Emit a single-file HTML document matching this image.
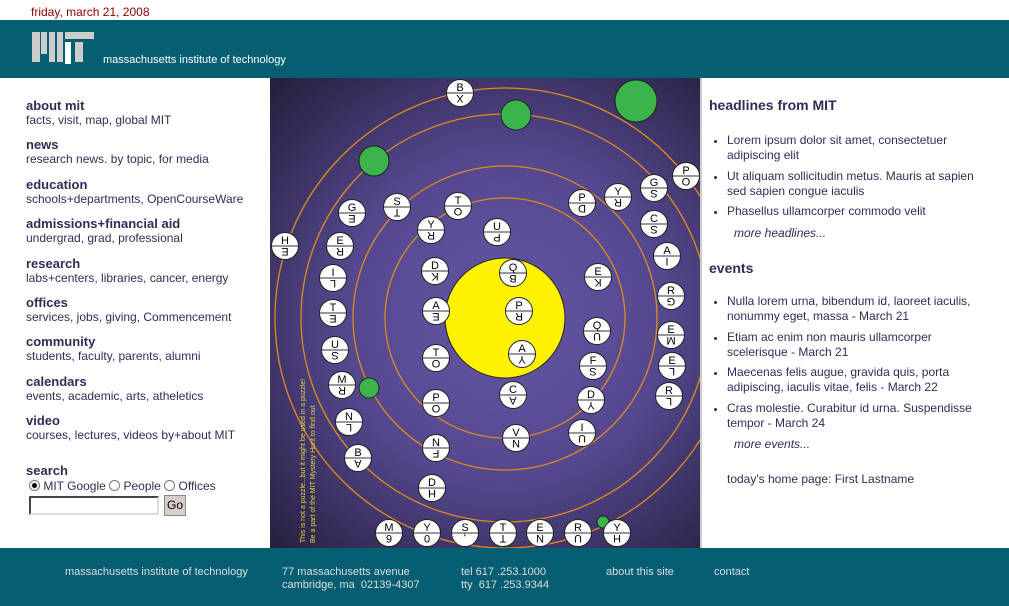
<!DOCTYPE html>
<html><head><meta charset="utf-8">
<style>
*{margin:0;padding:0;box-sizing:border-box}
body{width:1009px;height:606px;position:relative;background:#fff;font-family:"Liberation Sans",Arial,sans-serif;color:#2f2d5a;overflow:hidden}
.a{position:absolute;white-space:nowrap}
.date{left:31px;top:5px;font-size:12px;color:#8b0000}
.hdr{left:0;top:20px;width:1009px;height:58px;background:#065e73}
.ftr{left:0;top:548px;width:1009px;height:58px;background:#065e73}
.bar{position:absolute;background:#ccc}
.nav h{display:block;font-weight:bold;font-size:13px}
.nav s{display:block;text-decoration:none;font-size:12px}
.ri{font-size:12px;line-height:15px}
.ft{font-size:11px;color:#ddd;line-height:13px}
.bul{position:absolute;width:3px;height:3px;background:#2f2d5a;border-radius:50%}
</style></head><body>
<div class="a date">friday, march 21, 2008</div>
<div class="a hdr">
 <div class="bar" style="left:32px;top:12px;width:8px;height:30px"></div>
 <div class="bar" style="left:41px;top:12px;width:6px;height:22px"></div>
 <div class="bar" style="left:49px;top:12px;width:6px;height:30px"></div>
 <div class="bar" style="left:57px;top:12px;width:6px;height:30px"></div>
 <div class="bar" style="left:65px;top:12px;width:29px;height:7px"></div>
 <div class="bar" style="left:65px;top:22px;width:6px;height:22px;background:#fff"></div>
 <div class="bar" style="left:75px;top:22px;width:8px;height:20px"></div>
 <div class="a" style="left:103px;top:34px;font-size:11px;color:#fff">massachusetts institute of technology</div>
</div>

<div class="a nav" style="left:26px;top:99px;line-height:14px">
<h>about mit</h><s>facts, visit, map, global MIT</s>
<h style="margin-top:11.4px">news</h><s>research news. by topic, for media</s>
<h style="margin-top:11.4px">education</h><s>schools+departments, OpenCourseWare</s>
<h style="margin-top:11.4px">admissions+financial aid</h><s>undergrad, grad, professional</s>
<h style="margin-top:11.4px">research</h><s>labs+centers, libraries, cancer, energy</s>
<h style="margin-top:11.4px">offices</h><s>services, jobs, giving, Commencement</s>
<h style="margin-top:11.4px">community</h><s>students, faculty, parents, alumni</s>
<h style="margin-top:11.4px">calendars</h><s>events, academic, arts, atheletics</s>
<h style="margin-top:11.4px">video</h><s>courses, lectures, videos by+about MIT</s>
</div>
<div class="a" style="left:26px;top:463px;font-size:13px;font-weight:bold">search</div>
<div class="a" style="left:29px;top:479px;font-size:12px">
<span style="display:inline-block;width:11px;height:11px;border:1px solid #777;border-radius:50%;vertical-align:-1px;background:radial-gradient(#000 2px,#fff 3px)"></span> MIT Google <span style="display:inline-block;width:11px;height:11px;border:1px solid #777;border-radius:50%;vertical-align:-1px"></span> People <span style="display:inline-block;width:11px;height:11px;border:1px solid #777;border-radius:50%;vertical-align:-1px"></span> Offices</div>
<div class="a" style="left:29px;top:496px;width:130px;height:19px;border:2px inset #999;border-right-color:#ddd;border-bottom-color:#ddd"></div>
<div class="a" style="left:164px;top:495px;width:22px;height:21px;background:#d4d0c8;border:1px solid #888;font-size:12px;color:#000;text-align:center;line-height:19px">Go</div>

<svg class="a" style="left:270px;top:78px" width="430" height="470" viewBox="0 0 430 470">
<defs><radialGradient id="g" cx="235" cy="240" r="330" gradientUnits="userSpaceOnUse"><stop offset="0" stop-color="#6656a6"/><stop offset="0.5" stop-color="#54478d"/><stop offset="1" stop-color="#251f3c"/></radialGradient></defs>
<rect width="430" height="470" fill="url(#g)"/>
<g fill="none" stroke="#e08a1e" stroke-width="1.3">
<circle cx="235" cy="240" r="120"/><circle cx="235" cy="240" r="152"/><circle cx="235" cy="240" r="204"/><circle cx="235" cy="240" r="230"/></g>
<circle cx="235" cy="240" r="60" fill="#fff200" stroke="#222" stroke-width="1"/>
<g fill="#3bb54a" stroke="#222"><circle cx="366" cy="23" r="21"/><circle cx="246" cy="37" r="15"/><circle cx="104" cy="83" r="15"/><circle cx="99" cy="310" r="10"/><circle cx="333" cy="444" r="6"/></g>
<g id="t" font-family="Liberation Sans,sans-serif" font-size="11" text-anchor="middle">
</g>
<text transform="translate(35,465) rotate(-90)" font-size="7" fill="#e8d640" font-family="Liberation Sans,sans-serif">This is not a puzzle...but it might be used in a puzzle!</text>
<text transform="translate(45,465) rotate(-90)" font-size="7" fill="#e8d640" font-family="Liberation Sans,sans-serif">Be a part of the MIT Mystery Hunt to find out</text>
</svg>
<script>
var T=[["B","X",190,15],["P","O",416,98],["G","S",384,110],["Y","R",348,119],["P","D",312,125],["C","S",384,146],["A","I",397,178],["R","G",401,218],["E","M",401,257],["E","L",402,288],["R","L",399,318],["H","E",15,168],["G","E",82,135],["S","T",127,129],["T","O",188,128],["Y","R",161,152],["U","P",227,154],["E","R",70,168],["I","L",63,200],["T","E",63,235],["U","S",65,272],["M","R",72,307],["N","L",79,344],["B","A",88,380],["D","K",165,193],["A","E",166,233],["T","O",166,280],["P","O",166,325],["N","F",166,370],["D","H",162,410],["Q","B",243,195],["P","R",249,233],["A","Y",252,276],["C","A",243,317],["V","N",246,360],["E","K",328,199],["Q","U",327,253],["F","S",323,288],["D","Y",321,322],["I","U",312,355],["M","6",119,455],["Y","0",157,455],["S",",",195,455],["T","T",233,455],["E","N",270,455],["R","U",308,455],["Y","H",347,455]];
var s="";T.forEach(function(a){var x=a[2],y=a[3];s+='<circle cx="'+x+'" cy="'+y+'" r="13.5" fill="#fff" stroke="#222"/><line x1="'+(x-13)+'" y1="'+y+'" x2="'+(x+13)+'" y2="'+y+'" stroke="#333"/><text x="'+x+'" y="'+(y-2)+'">'+a[0]+'</text><text transform="translate('+x+','+(y+2)+') rotate(180)">'+a[1]+'</text>';});
document.getElementById("t").innerHTML=s;
</script>
<div class="a" style="left:700px;top:78px;width:2px;height:470px;background:#ccc"></div>

<div class="a" style="left:709px;top:97px;font-size:14px;font-weight:bold">headlines from MIT</div>
<div class="a ri" style="left:727px;top:133px">Lorem ipsum dolor sit amet, consectetuer<br>adipiscing elit</div>
<div class="a ri" style="left:727px;top:169px">Ut aliquam sollicitudin metus. Mauris at sapien<br>sed sapien congue iaculis</div>
<div class="a ri" style="left:727px;top:204px">Phasellus ullamcorper commodo velit</div>
<div class="a ri" style="left:734px;top:226px;font-style:italic">more headlines...</div>
<div class="a" style="left:709px;top:260px;font-size:14px;font-weight:bold">events</div>
<div class="a ri" style="left:727px;top:294px">Nulla lorem urna, bibendum id, laoreet iaculis,<br>nonummy eget, massa - March 21</div>
<div class="a ri" style="left:727px;top:330px">Etiam ac enim non mauris ullamcorper<br>scelerisque - March 21</div>
<div class="a ri" style="left:727px;top:365px">Maecenas felis augue, gravida quis, porta<br>adipiscing, iaculis vitae, felis - March 22</div>
<div class="a ri" style="left:727px;top:401px">Cras molestie. Curabitur id urna. Suspendisse<br>tempor - March 24</div>
<div class="a ri" style="left:734px;top:437px;font-style:italic">more events...</div>
<div class="a ri" style="left:727px;top:472px">today's home page: First Lastname</div>
<div class="bul" style="left:714px;top:140px"></div><div class="bul" style="left:714px;top:176px"></div><div class="bul" style="left:714px;top:211px"></div>
<div class="bul" style="left:714px;top:301px"></div><div class="bul" style="left:714px;top:337px"></div><div class="bul" style="left:714px;top:372px"></div><div class="bul" style="left:714px;top:408px"></div>

<div class="a ftr">
<div class="a ft" style="left:65px;top:18px">massachusetts institute of technology</div>
<div class="a ft" style="left:282px;top:18px">77 massachusetts avenue<br>cambridge, ma&nbsp; 02139-4307</div>
<div class="a ft" style="left:461px;top:18px">tel 617 .253.1000<br>tty&nbsp; 617 .253.9344</div>
<div class="a ft" style="left:606px;top:18px">about this site</div>
<div class="a ft" style="left:714px;top:18px">contact</div>
</div>
</body></html>
